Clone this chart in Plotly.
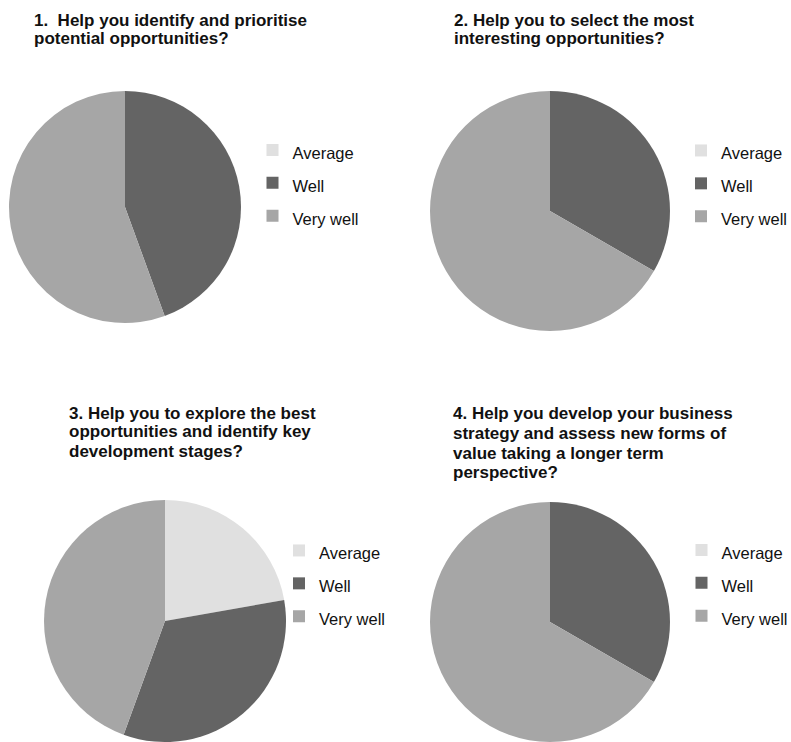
import plotly.graph_objects as go

W, H = 791, 742
labels = ["Average", "Well", "Very well"]
colors = ["#e0e0e0", "#646464", "#a6a6a6"]
q1 = [0, 4, 5]
q2 = [0, 3, 6]
q3 = [2, 3, 4]
q4 = [0, 3, 6]
titles = [
    ["1.  Help you identify and prioritise", "potential opportunities?"],
    ["2. Help you to select the most", "interesting opportunities?"],
    ["3. Help you to explore the best", "opportunities and identify key", "development stages?"],
    ["4. Help you develop your business", "strategy and assess new forms of", "value taking a longer term", "perspective?"],
]

# layout (pixels from top-left)
boxes = [(9, 241, 91, 323), (430, 670, 91, 331), (44, 286, 500, 742), (430, 670, 502, 742)]
legpos = [(252.5, 128.5), (681, 129), (279, 529), (681.5, 528.5)]
title_x = [31.5, 452, 67, 451]
title_base = [[27, 44], [27, 44], [420, 437.7, 457.7], [420, 439, 459, 479]]
data = [q1, q2, q3, q4]

leg_labels = [f'<span style="font-size:16.5px">{l}</span>' for l in labels]

fig = go.Figure()
for i, (vals, box) in enumerate(zip(data, boxes)):
    x0, x1, y0, y1 = box
    fig.add_trace(go.Pie(
        labels=leg_labels, values=vals, sort=False, direction="clockwise", rotation=0,
        marker=dict(colors=colors, line=dict(width=0)),
        textinfo="none", hoverinfo="label+value",
        domain=dict(x=[max(0, x0 / W), min(1, x1 / W)], y=[max(0, 1 - y1 / H), min(1, 1 - y0 / H)]),
        legend="legend" if i == 0 else f"legend{i+1}",
        legendgroup=f"q{i+1}",
        showlegend=True,
    ))

layout = dict(
    width=W, height=H, margin=dict(l=0, r=0, t=0, b=0, autoexpand=False),
    paper_bgcolor="white", plot_bgcolor="white",
    font=dict(family="Liberation Sans, Arial, sans-serif", color="#111"),
)
for i, (lx, ly) in enumerate(legpos):
    key = "legend" if i == 0 else f"legend{i+1}"
    layout[key] = dict(x=lx / W, y=1 - ly / H, xanchor="left", yanchor="top",
                       font=dict(size=23, color="#111"), bgcolor="rgba(0,0,0,0)",
                       itemclick=False, itemdoubleclick=False)
fig.update_layout(**layout)

for tx, lines, bases in zip(title_x, titles, title_base):
    for line, b in zip(lines, bases):
        fig.add_annotation(text=f"<b>{line}</b>", x=tx / W, y=1 - (b - 6) / H,
                           xref="paper", yref="paper", xanchor="left", yanchor="middle",
                           align="left", showarrow=False,
                           font=dict(size=17, color="#111"))

fig.write_html("out.html")
